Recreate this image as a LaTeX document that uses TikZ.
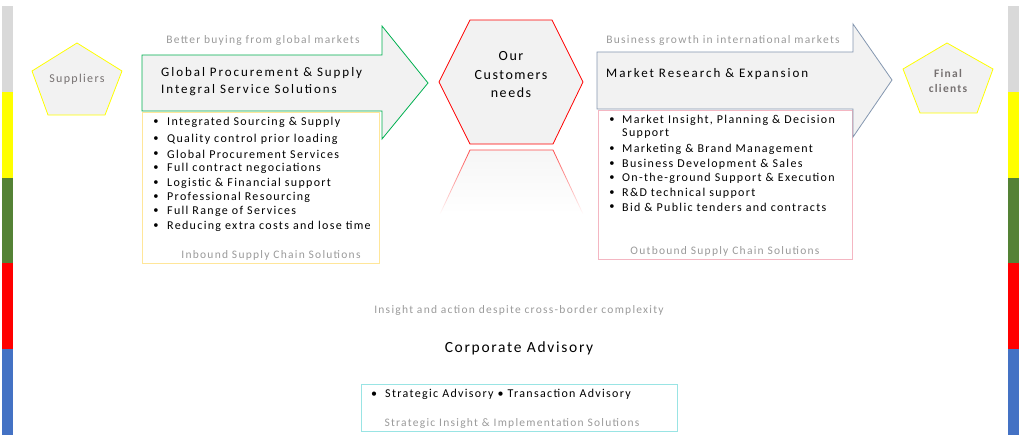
\documentclass[tikz,border=0pt]{standalone}
\usepackage{fontspec}
\setmainfont{Carlito}[LetterSpace=11]
\newfontfamily\headfont{Carlito}[LetterSpace=15]
\usetikzlibrary{fadings}

\definecolor{boxfill}{HTML}{F2F2F2}
\definecolor{labelgray}{HTML}{9A9A9A}
\definecolor{pentgray}{HTML}{767171}
\definecolor{arrowgreen}{HTML}{00B050}
\definecolor{arrowblue}{HTML}{8497B0}
\definecolor{inboundline}{HTML}{FFE699}
\definecolor{outboundline}{HTML}{F4B6C2}
\definecolor{advisoryline}{HTML}{99E4E4}
\definecolor{barGray}{HTML}{D9D9D9}
\definecolor{barYellow}{HTML}{FFFF00}
\definecolor{barGreen}{HTML}{548235}
\definecolor{barRed}{HTML}{FF0000}
\definecolor{barBlue}{HTML}{4472C4}

\tikzfading[name=reflfade, top color=transparent!30, bottom color=transparent!100]

\tikzset{
    caption/.style={text=labelgray, font=\fontsize{11.5}{13}\selectfont, inner sep=0pt},
    item/.style={anchor=west, inner sep=0pt, font=\fontsize{12}{14.5}\selectfont, align=left},
    dot/.style={inner sep=0pt, font=\fontsize{10.5}{12}\selectfont},
    heading/.style={anchor=west, inner sep=0pt, font=\headfont\fontsize{13}{17}\selectfont, align=left},
    pent/.style={fill=boxfill, draw=barYellow, line width=0.8pt},
    pentlabel/.style={text=pentgray, font=\fontsize{12}{15}\selectfont, align=center, inner sep=0pt}
}

\begin{document}
\begin{tikzpicture}[x=1pt,y=-1pt]
\useasboundingbox (0,0) rectangle (1024,444);

% side bars
\foreach \c [count=\i from 0] in {barGray,barYellow,barGreen,barRed,barBlue}{
    \fill[\c] (2,6+\i*85.8) rectangle (13,6+\i*85.8+85.8);
    \fill[\c] (1008,6+\i*85.8) rectangle (1019,6+\i*85.8+85.8);
}

% suppliers
\draw[pent] (77,43) -- (122,71) -- (105,115) -- (48,115) -- (32,71) -- cycle;
\node[pentlabel] (sup) at (77,79) {Suppliers};

% inbound
\draw[fill=white, draw=inboundline, line width=0.8pt] (142,112) rectangle (379,263);
\draw[fill=boxfill, draw=arrowgreen, line width=0.8pt]
    (142,55) -- (382,55) -- (382,26) -- (428,83) -- (382,139) -- (382,111) -- (142,111) -- cycle;
\node[caption] (buy) at (263,40) {Better buying from global markets};
\node[heading] (proc) at (161,82) {Global Procurement \& Supply\\Integral Service Solutions};
\foreach \y/\t [count=\i] in {122/Integrated Sourcing \& Supply, 139/Quality control prior loading,
    154/Global Procurement Services, 168/Full contract negociations, 183/Logistic \& Financial support,
    197/Professional Resourcing, 211/Full Range of Services, 226/Reducing extra costs and lose time}{
    \node[dot] (inb\i) at (156,\y) {\textbullet};
    \node[item] (int\i) at (167,\y) {\t};
}
\node[caption] (inbound) at (271,255) {Inbound Supply Chain Solutions};

% customers
\path[fill=boxfill, path fading=reflfade] (440,214) -- (470,150) -- (553,150) -- (583,214) -- cycle;
\draw[barRed, line width=0.8pt, path fading=reflfade] (440,214) -- (470,150) -- (553,150) -- (583,214);
\draw[fill=boxfill, draw=barRed, line width=0.8pt]
    (439,82) -- (470,20) -- (552,20) -- (583,82) -- (553,144) -- (470,144) -- cycle;
\node[align=center, inner sep=0pt, font=\fontsize{14}{18.5}\selectfont] (cust) at (511,75) {Our\\Customers\\needs};

% outbound
\draw[fill=white, draw=outboundline, line width=0.8pt] (598,110) rectangle (852,259);
\draw[fill=boxfill, draw=arrowblue, line width=0.8pt]
    (597,52) -- (853,52) -- (853,24) -- (892,80) -- (853,137) -- (853,109) -- (597,109) -- cycle;
\node[caption] (growth) at (723,40) {Business growth in international markets};
\node[heading] (market) at (606,74) {Market Research \& Expansion};
\foreach \y/\t [count=\i] in {120/{Market Insight, Planning \& Decision}, 149/Marketing \& Brand Management,
    164/Business Development \& Sales, 178/On-the-ground Support \& Execution,
    193/R\&D technical support, 207/Bid \& Public tenders and contracts}{
    \node[dot] (outb\i) at (612,\y) {\textbullet};
    \node[item] (outt\i) at (622,\y) {\t};
}
\node[item] (outt1b) at (622,134) {Support};
\node[caption] (outbound) at (725,251) {Outbound Supply Chain Solutions};

% final clients
\draw[pent] (947,43) -- (993,69) -- (977,113) -- (920,113) -- (903,69) -- cycle;
\node[pentlabel, font=\fontsize{11.5}{15}\bfseries] (cli) at (948,81) {Final\\clients};

% advisory
\node[caption] (insight) at (519,310) {Insight and action despite cross-border complexity};
\node[inner sep=0pt, font=\fontsize{15.5}{18}\selectfont] (corp) at (519,348) {Corporate Advisory};
\draw[draw=advisoryline, line width=0.8pt] (361,384) rectangle (677,431);
\node[item] (adv) at (371,394) {\textbullet\ \ Strategic Advisory \textbullet\ Transaction Advisory};
\node[caption] (strat) at (512,423) {Strategic Insight \& Implementation Solutions};
\end{tikzpicture}
\end{document}
